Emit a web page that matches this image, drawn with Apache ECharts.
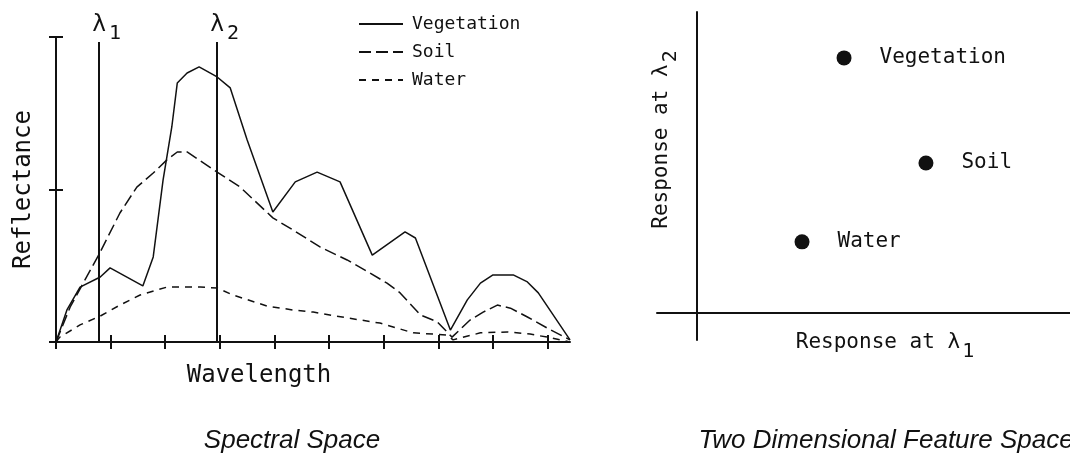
<!DOCTYPE html>
<html><head><meta charset="utf-8">
<script src="https://cdn.jsdelivr.net/npm/echarts@6/dist/echarts.min.js"></script>
<style>html,body{margin:0;padding:0;background:#fff}#c{width:1070px;height:454px}</style>
</head><body><div id="c"></div>
<script>
// ---- Spectral space (left) ----
const seriesNames = ['Vegetation', 'Soil', 'Water'];
const wavelengthTicks = [0, 1, 2, 3, 4, 5, 6, 7, 8, 9];
const reflectanceTicks = [0, 50, 100];
const vegetationX = [0,0.20,0.44,0.81,0.99,1.59,1.78,1.96,2.12,2.22,2.40,2.62,2.95,3.19,3.50,3.97,4.38,4.78,5.20,5.79,6.39,6.58,7.22,7.53,7.77,8.00,8.37,8.63,8.83,9.41];
const vegetationY = [0,10.5,18.0,21.3,24.3,18.4,27.9,53.1,70.5,84.9,88.2,90.2,86.9,83.3,66.2,42.6,52.5,55.7,52.5,28.5,36.1,34.1,3.9,13.8,19.3,22.0,22.0,19.7,16.1,0.7];
const soilX = [0,0.26,0.81,1.17,1.48,1.78,2.03,2.22,2.40,2.95,3.37,3.97,4.34,4.84,5.33,5.75,6.06,6.30,6.67,6.98,7.25,7.58,7.82,8.08,8.32,8.63,8.99,9.41];
const soilY = [0,11.5,29.5,42.3,50.8,55.4,59.7,62.3,62.3,55.7,50.8,40.7,36.7,31.1,26.9,22.6,19.3,16.1,8.9,6.6,1.6,7.2,9.8,12.1,11.1,8.2,4.6,0.7];
const waterX = [0,0.07,0.44,0.81,1.17,1.54,2.03,2.64,2.95,3.24,3.86,4.34,4.71,5.33,5.93,6.54,7.16,7.27,7.77,8.26,8.68,8.99,9.41];
const waterY = [0,1.6,5.6,8.5,12.1,15.4,18.0,18.0,17.7,15.4,11.8,10.5,9.8,7.9,6.2,3.0,2.3,0.7,3.0,3.3,2.6,1.6,0];
const lambdaNames = ['1', '2'];
const lambdaPositions = [0.79, 2.95];
const lambdaTop = 98.4;

// ---- Two dimensional feature space (right) ----
const featureNames = ['Vegetation', 'Soil', 'Water'];
const responseL1 = [4.9, 7.63, 3.5];
const responseL2 = [8.5, 5.0, 2.37];

const ink = '#111';
const mono = '"DejaVu Sans Mono", monospace';
const zip = (xs, ys) => xs.map((x, i) => [x, ys[i]]);

const baseAxis = (extra) => Object.assign({
  type: 'value',
  axisLine: { show: true, onZero: false, lineStyle: { color: ink, width: 2 } },
  axisLabel: { show: false },
  splitLine: { show: false }
}, extra);

const subRich = {
  m: { fontFamily: mono, fontSize: 21, lineHeight: 22, verticalAlign: 'top', color: ink },
  s: { fontFamily: mono, fontSize: 20, lineHeight: 20, verticalAlign: 'bottom', color: ink, padding: [0, 0, 0, 2] },
  z: { fontSize: 1, lineHeight: 30, width: 1 }
};
const spectralRect = { left: 56, top: 37, width: 514, height: 305 };

const option = {
  animation: false,
  backgroundColor: '#fff',
  title: [
    { text: 'Spectral Space', left: 287, top: 423, textAlign: 'center',
      textStyle: { fontFamily: '"Liberation Sans", Arial, sans-serif', fontStyle: 'italic', fontWeight: 'normal', fontSize: 26, color: ink } },
    { text: 'Two Dimensional Feature Space', left: 881, top: 423, textAlign: 'center',
      textStyle: { fontFamily: '"Liberation Sans", Arial, sans-serif', fontStyle: 'italic', fontWeight: 'normal', fontSize: 26, color: ink } }
  ],
  legend: {
    data: seriesNames, orient: 'vertical', left: 353, top: 10,
    itemWidth: 44, itemHeight: 14, itemGap: 10,
    itemStyle: { opacity: 0 },
    textStyle: { fontFamily: mono, fontSize: 18, color: ink, padding: [0, 0, 0, 4] }
  },
  grid: [
    Object.assign({}, spectralRect),
    { left: 657, top: 12, right: 0, height: 328 }
  ],
  xAxis: [
    baseAxis({ gridIndex: 0, position: 'bottom', min: 0, max: 9.41,
      axisTick: { show: true, customValues: wavelengthTicks, length: 7, lineStyle: { color: ink, width: 2 } },
      name: 'Wavelength', nameLocation: 'middle', nameGap: 22,
      nameTextStyle: { fontFamily: mono, fontSize: 24, color: ink, padding: [0, 108, 0, 0] } }),
    baseAxis({ gridIndex: 1, min: -1.333, max: 12.43,
      axisLine: { show: true, onZero: true, lineStyle: { color: ink, width: 2 } },
      axisTick: { show: false },
      name: '{m|Response at λ}{s|1}{z| }', nameLocation: 'middle', nameGap: -8,
      nameTextStyle: { color: ink, padding: [0, 0, 0, 44], rich: subRich } }),
    // same wavelength scale, moved down onto the bottom axis so its ticks point up into the plot
    baseAxis({ gridIndex: 0, position: 'top', offset: -spectralRect.height, min: 0, max: 9.41,
      axisLine: { show: false, onZero: false },
      axisTick: { show: true, customValues: wavelengthTicks, length: 7, lineStyle: { color: ink, width: 2 } } })
  ],
  yAxis: [
    baseAxis({ gridIndex: 0, position: 'left', min: 0, max: 100, interval: 50,
      axisTick: { show: true, customValues: reflectanceTicks, length: 7, lineStyle: { color: ink, width: 2 } },
      name: 'Reflectance', nameLocation: 'middle', nameGap: 20,
      nameTextStyle: { fontFamily: mono, fontSize: 24, color: ink } }),
    baseAxis({ gridIndex: 1, min: -0.9, max: 10.03,
      axisLine: { show: true, onZero: true, lineStyle: { color: ink, width: 2 } },
      axisTick: { show: false },
      name: '{m|Response at λ}{s|2}{z| }', nameLocation: 'middle', nameGap: -24,
      nameTextStyle: { color: ink, padding: [0, 0, 0, 74], rich: subRich } }),
    // same reflectance scale, moved left onto the y axis so its ticks point right into the plot
    baseAxis({ gridIndex: 0, position: 'right', offset: -spectralRect.width, min: 0, max: 100, interval: 50,
      axisLine: { show: false, onZero: false },
      axisTick: { show: true, customValues: reflectanceTicks, length: 7, lineStyle: { color: ink, width: 2 } } })
  ],
  series: [
    { name: 'Vegetation', type: 'line', xAxisIndex: 0, yAxisIndex: 0, symbol: 'none',
      data: zip(vegetationX, vegetationY),
      lineStyle: { color: ink, width: 1.5, type: 'solid' }, itemStyle: { color: ink },
      markLine: {
        silent: true, symbol: ['none', 'none'], animation: false,
        lineStyle: { color: ink, width: 2, type: 'solid' },
        label: { show: true, position: 'end', distance: -2, color: ink,
          formatter: p => '{sp| }{l|λ}{s|' + p.name + '}',
          rich: { sp: { width: 15, lineHeight: 30, fontSize: 10 },
                  l: { fontFamily: mono, fontSize: 23, lineHeight: 22, verticalAlign: 'top', color: ink },
                  s: { fontFamily: mono, fontSize: 20, lineHeight: 20, verticalAlign: 'bottom', color: ink, padding: [0, 0, 0, 3] } } },
        data: lambdaPositions.map((x, i) => [{ name: lambdaNames[i], coord: [x, 0] }, { coord: [x, lambdaTop] }])
      } },
    { name: 'Soil', type: 'line', xAxisIndex: 0, yAxisIndex: 0, symbol: 'none',
      data: zip(soilX, soilY),
      lineStyle: { color: ink, width: 1.5, type: [12, 5] }, itemStyle: { color: ink } },
    { name: 'Water', type: 'line', xAxisIndex: 0, yAxisIndex: 0, symbol: 'none',
      data: zip(waterX, waterY),
      lineStyle: { color: ink, width: 1.5, type: [7, 6] }, itemStyle: { color: ink } },
    { name: 'Features', type: 'scatter', xAxisIndex: 1, yAxisIndex: 1, symbolSize: 15,
      itemStyle: { color: ink, opacity: 1 },
      label: { show: true, position: 'right', distance: 28, formatter: '{b}',
        fontFamily: mono, fontSize: 21, color: ink },
      data: featureNames.map((n, i) => ({ name: n, value: [responseL1[i], responseL2[i]] })) }
  ]
};
const chart = echarts.init(document.getElementById('c'), null, { renderer: 'canvas' });
chart.setOption(option);
</script>
</body></html>
